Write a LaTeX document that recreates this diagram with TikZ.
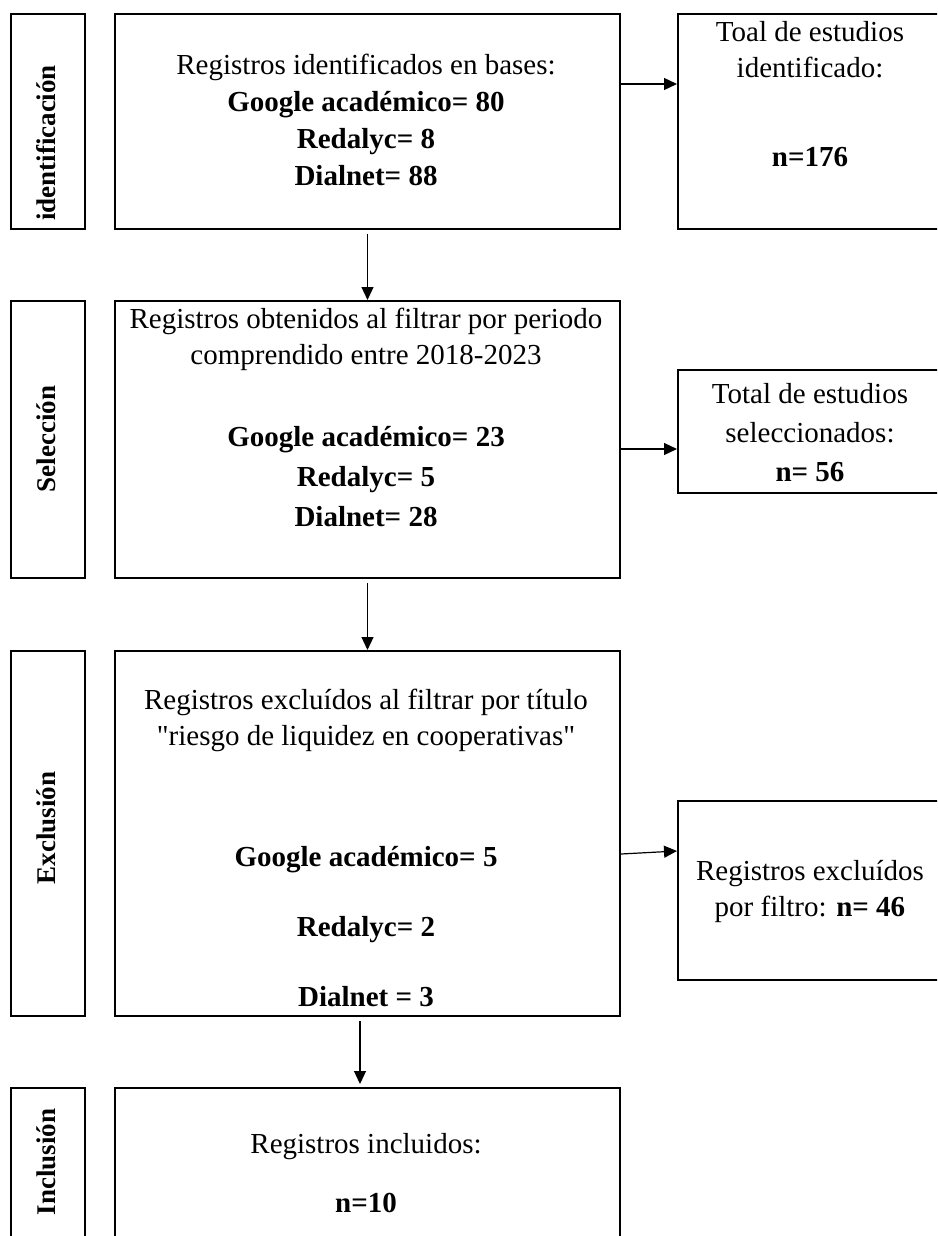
\documentclass[tikz,border=0pt]{standalone}
\usepackage{fontspec}
\newfontfamily\serif{Liberation Serif}
\usetikzlibrary{arrows.meta,positioning}
\tikzstyle{caja} = [draw, line width=2pt, anchor=north west, inner sep=0pt]
\tikzstyle{flecha} = [-{Triangle[length=13pt,width=12pt]}, line width=1.2pt]
\tikzstyle{texto} = [align=center, font=\serif\fontsize{29}{36}\selectfont]
\tikzstyle{dato} = [align=center, font=\serif\bfseries\fontsize{29}{37}\selectfont]
\tikzstyle{fase} = [rotate=90, font=\serif\bfseries\fontsize{27}{30}\selectfont]

\begin{document}
\begin{tikzpicture}[x=1pt,y=-1pt]
                    \useasboundingbox (0,0) rectangle (937,1236);
                    \clip (0,0) rectangle (937,1236);
                    % fases
                    \node[caja, minimum width=74pt, minimum height=215pt] (f1) at (10,13) {};
                    \node[caja, minimum width=74pt, minimum height=277pt] (f2) at (10,300) {};
                    \node[caja, minimum width=74pt, minimum height=365pt] (f3) at (10,650) {};
                    \node[caja, minimum width=74pt, minimum height=200pt] (f4) at (10,1087) {};
                    \node[fase] (e1) at (46,143) {identificación};
                    \node[fase] (e2) at (46,439) {Selección};
                    \node[fase] (e3) at (46,828) {Exclusión};
                    \node[fase] (e4) at (46,1162) {Inclusión};
                    % cajas centrales
                    \node[caja, minimum width=505pt, minimum height=215pt] (ident) at (114,13) {};
                    \node[caja, minimum width=505pt, minimum height=277pt] (sel) at (114,300) {};
                    \node[caja, minimum width=505pt, minimum height=365pt] (excl) at (114,650) {};
                    \node[caja, minimum width=505pt, minimum height=200pt] (incl) at (114,1087) {};
                    % cajas de totales
                    \node[caja, minimum width=280pt, minimum height=215pt] (tot1) at (677,13) {};
                    \node[caja, minimum width=280pt, minimum height=123pt] (tot2) at (677,369) {};
                    \node[caja, minimum width=280pt, minimum height=179pt] (tot3) at (677,800) {};
                    % textos
                    \node[dato] (t1) at (366,120) {\mdseries Registros identificados en bases:\\Google académico= 80\\Redalyc= 8\\Dialnet= 88};
                    \node[texto] (t2) at (366,339) {Registros obtenidos al filtrar por periodo\\comprendido entre 2018-2023};
                    \node[dato] (d2) at (366,477) {Google académico= 23\\[3pt]Redalyc= 5\\[3pt]Dialnet= 28};
                    \node[texto] (t3) at (366,720) {Registros excluídos al filtrar por título\\"riesgo de liquidez en cooperativas"};
                    \node[dato] (d3) at (366,927) {Google académico= 5\\[33pt]Redalyc= 2\\[33pt]Dialnet = 3};
                    \node[texto] (t4) at (366,1147) {Registros incluidos:};
                    \node[dato] (d4) at (366,1203) {n=10};
                    \node[texto] (r1) at (810,50) {Toal de estudios\\identificado:};
                    \node[dato] (n1) at (810,157) {n=176};
                    \node[texto, font=\serif\fontsize{29}{39}\selectfont] (r2) at (810,433) {Total de estudios\\seleccionados:\\\textbf{n= 56}};
                    \node[texto] (r3) at (810,891) {Registros excluídos\\por filtro: \textbf{n= 46}};
                    % flechas
                    \draw[flecha] ([yshift=37.5pt]ident.east) -- ([yshift=37.5pt]tot1.west);
                    \draw[flecha] ([yshift=-9.5pt]sel.east) -- ([yshift=-17.5pt]tot2.west);
                    \draw[flecha] ([yshift=-20.5pt]excl.east) -- ([yshift=39.5pt]tot3.west);
                    \draw[flecha] ([yshift=-4pt]ident.south) -- (sel.north);
                    \draw[flecha] ([yshift=-4pt]sel.south) -- (excl.north);
                    \draw[flecha] ([xshift=-7.5pt,yshift=-4pt]excl.south) -- ([xshift=-7.5pt,yshift=3pt]incl.north);
                \end{tikzpicture}
\end{document}
